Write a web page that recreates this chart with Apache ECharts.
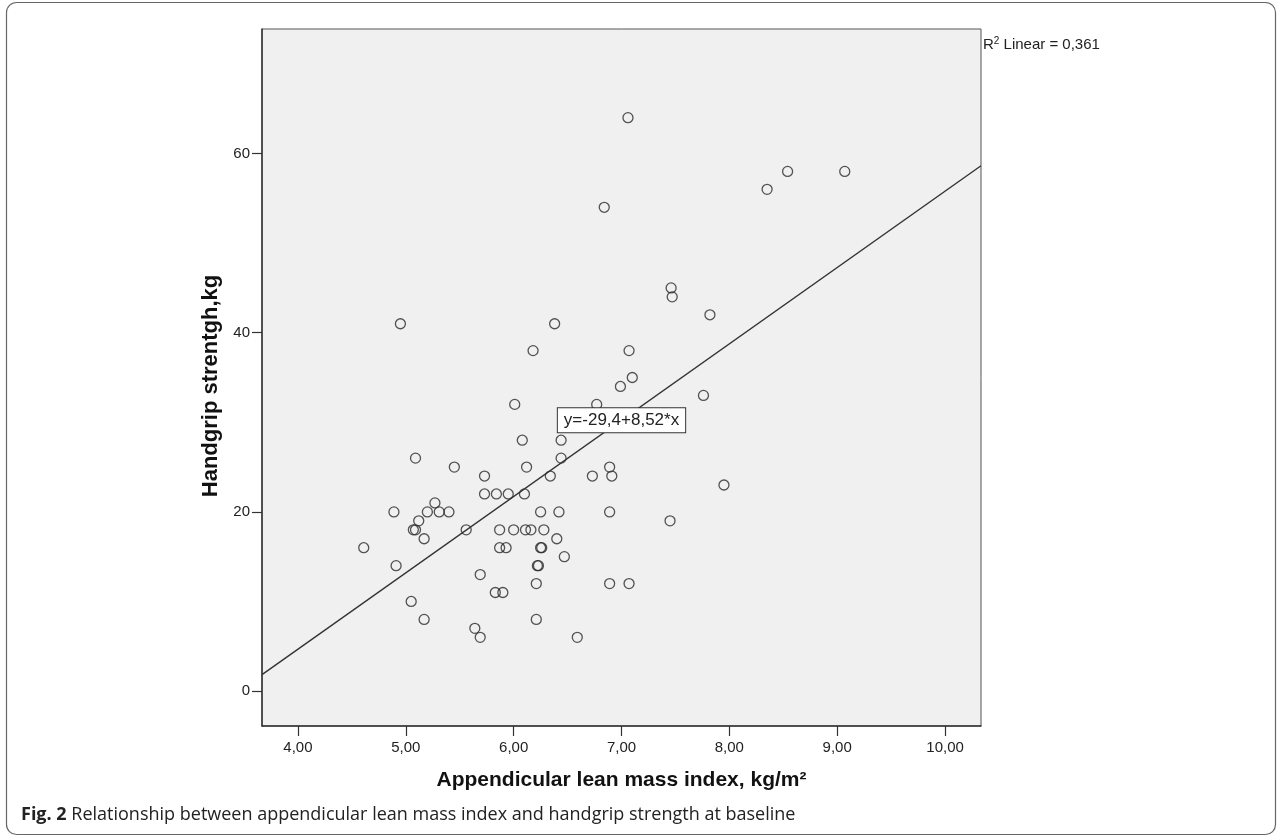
<!DOCTYPE html>
<html>
<head>
<meta charset="utf-8">
<script src="https://cdn.jsdelivr.net/npm/echarts@6/dist/echarts.min.js"></script>
<style>
  html, body { margin: 0; padding: 0; background: #ffffff; }
  #chart { width: 1281px; height: 838px; }
</style>
</head>
<body>
<div id="chart"></div>
<script>
// ---- data ----
const xTickValues = [4, 5, 6, 7, 8, 9, 10];
const yTickValues = [0, 20, 40, 60];

const leanMassIndex = [
  6.84, 4.95, 6.38, 6.18, 6.99, 6.77, 6.01, 6.08, 6.44, 6.44,
  5.09, 5.45, 6.12, 5.73, 6.34, 6.73, 6.89, 6.91, 5.73, 5.84,
  5.95, 6.10, 5.27, 4.89, 5.20, 5.31, 5.40, 6.25, 6.42, 6.89,
  5.12, 5.07, 5.09, 5.56, 5.87, 6.00, 6.11, 6.16, 6.28, 5.17,
  6.40, 4.61, 5.87, 5.93, 6.25, 6.26, 6.47, 4.91, 6.22, 6.23,
  5.69, 6.21, 6.89, 5.83, 5.90, 5.05, 5.17, 6.21, 5.64, 5.69,
  6.59, 7.06, 8.54, 9.07, 8.35, 7.46, 7.47, 7.82, 7.07, 7.10,
  7.76, 7.95, 7.45, 7.07
];
const handgripStrength = [
  54, 41, 41, 38, 34, 32, 32, 28, 28, 26,
  26, 25, 25, 24, 24, 24, 25, 24, 22, 22,
  22, 22, 21, 20, 20, 20, 20, 20, 20, 20,
  19, 18, 18, 18, 18, 18, 18, 18, 18, 17,
  17, 16, 16, 16, 16, 16, 15, 14, 14, 14,
  13, 12, 12, 11, 11, 10, 8, 8, 7, 6,
  6, 64, 58, 58, 56, 45, 44, 42, 38, 35,
  33, 23, 19, 12
];

const fitIntercept = -29.4;
const fitSlope = 8.52;
const fitLabel = 'y=-29,4+8,52*x';
const r2Value = '0,361';

const xTitle = 'Appendicular lean mass index, kg/m²';
const yTitle = 'Handgrip strentgh,kg';
const captionBold = 'Fig. 2';
const captionText = ' Relationship between appendicular lean mass index and handgrip strength at baseline';

// ---- chart ----
const xMin = 3.6667, xMax = 10.3333;
const yMin = -3.9, yMax = 73.9;

const points = leanMassIndex.map((x, i) => [x, handgripStrength[i]]);
const fitAt = x => fitIntercept + fitSlope * x;
const fitLine = [[xMin, fitAt(xMin)], [xMax, fitAt(xMax)]];
const xMid = (xMin + xMax) / 2;

const fmt = v => v.toFixed(2).replace('.', ',');

const chart = echarts.init(document.getElementById('chart'), null, { renderer: 'canvas' });
chart.setOption({
  animation: false,
  backgroundColor: '#ffffff',
  grid: {
    left: 262, right: 300, top: 29, bottom: 112,
    containLabel: false,
    outerBoundsMode: 'none',
    show: true,
    backgroundColor: '#f0f0f0',
    borderColor: '#555',
    borderWidth: 1
  },
  xAxis: {
    type: 'value',
    min: xMin, max: xMax,
    name: xTitle,
    nameLocation: 'middle',
    nameGap: 44,
    nameTextStyle: { fontFamily: 'Liberation Sans', fontWeight: 'bold', fontSize: 21, color: '#111' },
    axisLine: { show: true, onZero: false, lineStyle: { color: '#333', width: 1.5 } },
    axisTick: { show: true, length: 10, customValues: xTickValues, lineStyle: { color: '#333', width: 1.2 } },
    axisLabel: { show: true, customValues: xTickValues, margin: 14, formatter: fmt,
      fontFamily: 'Liberation Sans', fontSize: 15, color: '#222' },
    splitLine: { show: false }
  },
  yAxis: {
    type: 'value',
    min: yMin, max: yMax,
    name: yTitle,
    nameLocation: 'middle',
    nameGap: 29,
    nameTextStyle: { fontFamily: 'Liberation Sans', fontWeight: 'bold', fontSize: 22, color: '#111', padding: [0, 17, 0, 0] },
    axisLine: { show: true, onZero: false, lineStyle: { color: '#333', width: 1.5 } },
    axisTick: { show: true, length: 10, customValues: yTickValues, lineStyle: { color: '#333', width: 1.2 } },
    axisLabel: { show: true, customValues: yTickValues, margin: 12,
      fontFamily: 'Liberation Sans', fontSize: 15, color: '#222' },
    splitLine: { show: false }
  },
  series: [
    {
      type: 'scatter',
      data: points,
      symbol: 'circle',
      symbolSize: 10,
      z: 2,
      itemStyle: { color: 'rgba(0,0,0,0)', borderColor: '#2a2a2a', borderWidth: 1.3 },
      emphasis: { disabled: true }
    },
    {
      type: 'line',
      data: fitLine,
      symbol: 'none',
      z: 3,
      lineStyle: { color: '#333', width: 1.4 },
      emphasis: { disabled: true },
      markPoint: {
        z: 10,
        symbol: 'rect',
        symbolSize: 1,
        itemStyle: { color: 'rgba(0,0,0,0)' },
        data: [{
          coord: [xMid, fitAt(xMid)],
          label: {
            show: true,
            position: 'inside',
            formatter: fitLabel,
            fontFamily: 'Liberation Sans',
            fontSize: 17,
            color: '#222',
            backgroundColor: '#ffffff',
            borderColor: '#333',
            borderWidth: 1,
            padding: [4, 6, 3, 6]
          }
        }]
      }
    }
  ],
  graphic: [
    {
      type: 'rect',
      silent: true,
      shape: { x: 6.5, y: 2.5, width: 1269, height: 832, r: 10 },
      style: { fill: 'none', stroke: '#666', lineWidth: 1.2 }
    },
    {
      type: 'text',
      left: 983, top: 36,
      style: {
        text: 'R{sup|2} Linear = ' + r2Value,
        fontFamily: 'Liberation Sans',
        fontSize: 15,
        fill: '#222',
        rich: {
          sup: { fontSize: 10, fontFamily: 'Liberation Sans', verticalAlign: 'top', lineHeight: 18, fill: '#222' }
        }
      }
    },
    {
      type: 'text',
      left: 21, top: 806,
      style: {
        text: '{b|' + captionBold + '}' + captionText,
        fontFamily: 'Open Sans',
        fontSize: 18,
        fill: '#222',
        rich: {
          b: { fontFamily: 'Open Sans', fontWeight: 'bold', fontSize: 18, fill: '#222' }
        }
      }
    }
  ]
});
</script>
</body>
</html>
